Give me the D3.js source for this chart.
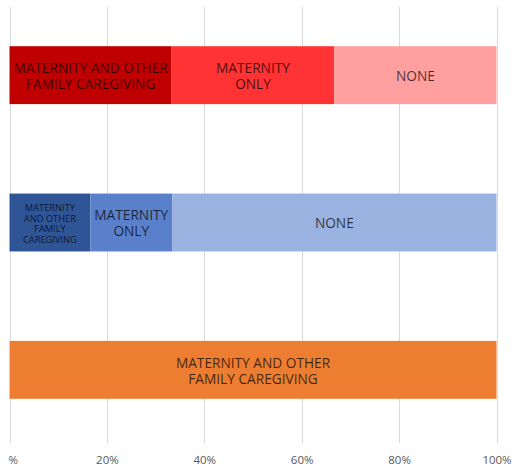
<!DOCTYPE html>
<html>
<head>
<meta charset="utf-8">
<script src="https://cdn.jsdelivr.net/npm/d3@7"></script>
<style>
  html, body { margin: 0; padding: 0; background: #fff; }
  svg { display: block; font-family: "Open Sans", "Noto Sans", sans-serif; }
</style>
</head>
<body>
<svg id="chart" width="513" height="469"></svg>
<script>
// Share of each coverage type, per row (percent)
const rows = ["row1", "row2", "row3"];
const seriesNames = ["MATERNITY AND OTHER FAMILY CAREGIVING", "MATERNITY ONLY", "NONE"];
const row1Values = [33.3, 33.4, 33.3];
const row2Values = [16.6, 16.8, 66.6];
const row3Values = [100, 0, 0];
const tickValues = [0, 20, 40, 60, 80, 100];
const tickLabels = ["0%", "20%", "40%", "60%", "80%", "100%"];

// Label lines per segment (wrapped text)
const row1Lines = [["MATERNITY AND OTHER", "FAMILY CAREGIVING"], ["MATERNITY", "ONLY"], ["NONE"]];
const row2Lines = [["MATERNITY", "AND OTHER", "FAMILY", "CAREGIVING"], ["MATERNITY", "ONLY"], ["NONE"]];
const row3Lines = [["MATERNITY AND OTHER", "FAMILY CAREGIVING"], [], []];

const row1Colors = ["#C00000", "#FF3333", "#FF9F9F"];
const row2Colors = ["#2F5597", "#5A80CB", "#9AB2E0"];
const row3Colors = ["#ED7D31", "#ED7D31", "#ED7D31"];

const values = [row1Values, row2Values, row3Values];
const lines = [row1Lines, row2Lines, row3Lines];
const colors = [row1Colors, row2Colors, row3Colors];

const svg = d3.select("#chart");

const x = d3.scaleLinear().domain([0, 100]).range([9.5, 496.5]);
const y = d3.scaleBand().domain(rows).range([1.5, 443.5]).paddingInner(0.607).paddingOuter(0.3035);

// Vertical gridlines
svg.append("g")
  .selectAll("line")
  .data(tickValues)
  .join("line")
  .attr("x1", d => Math.round(x(d)) + 0.5)
  .attr("x2", d => Math.round(x(d)) + 0.5)
  .attr("y1", 7)
  .attr("y2", 443)
  .attr("stroke", "#D9D9D9")
  .attr("stroke-width", 1);

// Stacked segments
const segs = [];
rows.forEach((r, i) => {
  let acc = 0;
  values[i].forEach((v, j) => {
    if (v > 0) segs.push({ row: r, i, j, x0: acc, x1: acc + v, lines: lines[i][j], color: colors[i][j] });
    acc += v;
  });
});

svg.append("g")
  .selectAll("rect")
  .data(segs)
  .join("rect")
  .attr("x", d => x(d.x0))
  .attr("width", d => x(d.x1) - x(d.x0))
  .attr("y", d => y(d.row))
  .attr("height", y.bandwidth())
  .attr("fill", d => d.color);

// Segment labels
const labels = svg.append("g")
  .selectAll("text")
  .data(segs)
  .join("text")
  .attr("text-anchor", "middle")
  .attr("fill", "#000")
  .attr("fill-opacity", 0.72)
  .attr("font-size", d => d.lines.length > 2 ? 9.3 : 13.7)
  .attr("transform", d => `translate(${(x(d.x0) + x(d.x1)) / 2},${y(d.row) + y.bandwidth() / 2 + 1})`);

labels.each(function(d) {
  const lh = d.lines.length > 2 ? 10.6 : 16;
  const n = d.lines.length;
  d3.select(this).selectAll("tspan")
    .data(d.lines)
    .join("tspan")
    .attr("x", 0)
    .attr("y", (l, k) => (k - (n - 1) / 2) * lh)
    .attr("dy", "0.36em")
    .text(l => l);
});

// Bottom axis tick labels (left edge trimmed at the plot border)
svg.append("defs").append("clipPath").attr("id", "axisClip")
  .append("rect").attr("x", 8.5).attr("y", -30).attr("width", 513).attr("height", 60);

const axis = svg.append("g")
  .attr("transform", "translate(0,460)")
  .attr("clip-path", "url(#axisClip)")
  .call(d3.axisBottom(x).tickValues(tickValues).tickSize(0).tickPadding(0)
    .tickFormat((d, k) => tickLabels[k]));
axis.select(".domain").remove();
axis.selectAll("text")
  .attr("dy", "0.35em")
  .attr("font-size", 11.5)
  .attr("font-family", "\"Open Sans\", \"Noto Sans\", sans-serif")
  .attr("fill", "#595959");
</script>
</body>
</html>
